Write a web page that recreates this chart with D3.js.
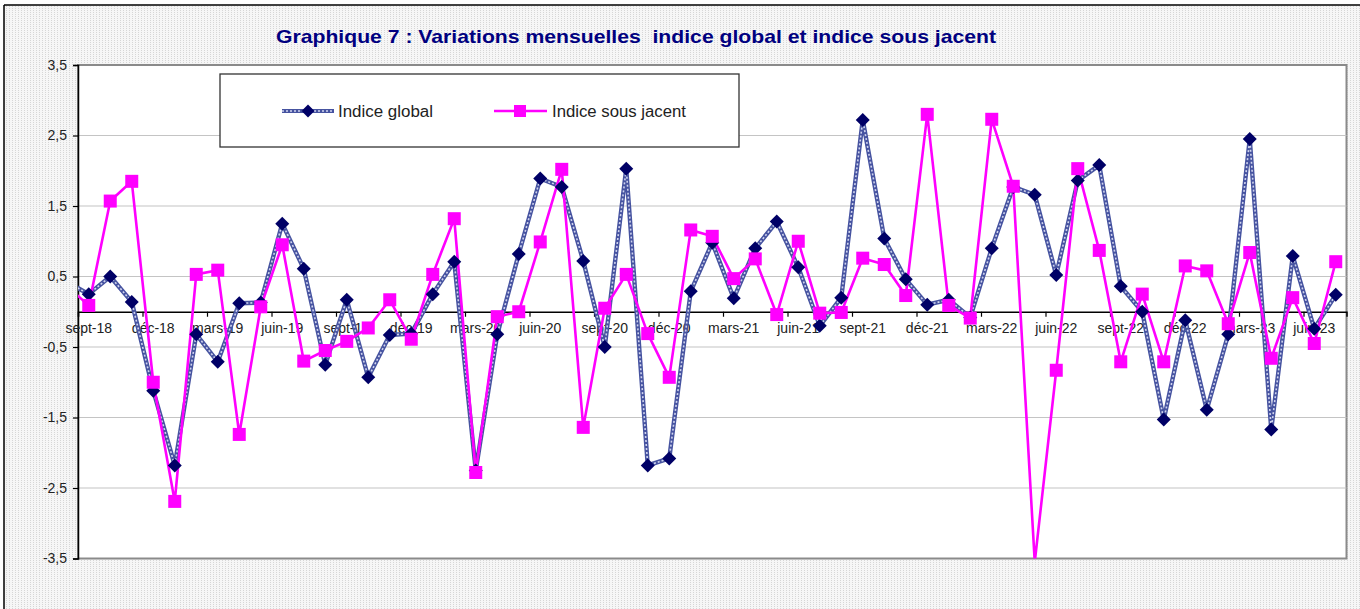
<!DOCTYPE html>
<html><head><meta charset="utf-8">
<script src="https://cdn.jsdelivr.net/npm/d3@7"></script>
<style>
html,body{margin:0;padding:0;background:#fff;}
svg{display:block;font-family:"Liberation Sans",Arial,sans-serif;}
</style></head>
<body><svg id="chart" width="1360" height="609"></svg>
<script>
const title = "Graphique 7 : Variations mensuelles  indice global et indice sous jacent";
const months = ["août-18","sept-18","oct-18","nov-18","déc-18","janv-19","févr-19","mars-19","avr-19","mai-19","juin-19","juil-19","août-19","sept-19","oct-19","nov-19","déc-19","janv-20","févr-20","mars-20","avr-20","mai-20","juin-20","juil-20","août-20","sept-20","oct-20","nov-20","déc-20","janv-21","févr-21","mars-21","avr-21","mai-21","juin-21","juil-21","août-21","sept-21","oct-21","nov-21","déc-21","janv-22","févr-22","mars-22","avr-22","mai-22","juin-22","juil-22","août-22","sept-22","oct-22","nov-22","déc-22","janv-23","févr-23","mars-23","avr-23","mai-23","juin-23","juil-23"];
const indiceGlobal = [0.42,0.25,0.50,0.14,-1.12,-2.18,-0.32,-0.71,0.12,0.13,1.25,0.61,-0.75,0.17,-0.93,-0.33,-0.31,0.25,0.71,-2.25,-0.32,0.82,1.89,1.77,0.72,-0.50,2.03,-2.18,-2.08,0.29,0.98,0.19,0.90,1.28,0.63,-0.20,0.20,2.72,1.04,0.46,0.10,0.17,-0.08,0.90,1.77,1.66,0.52,1.86,2.08,0.36,0.00,-1.53,-0.12,-1.39,-0.32,2.45,-1.67,0.79,-0.24,0.24];
const indiceSousJacent = [0.36,0.09,1.57,1.85,-1.00,-2.69,0.53,0.59,-1.74,0.07,0.95,-0.70,-0.55,-0.42,-0.23,0.17,-0.39,0.53,1.32,-2.28,-0.07,0.00,0.99,2.02,-1.64,0.05,0.53,-0.31,-0.93,1.16,1.07,0.47,0.75,-0.04,1.00,-0.02,-0.01,0.76,0.67,0.23,2.80,0.09,-0.09,2.73,1.78,-3.55,-0.83,2.03,0.87,-0.71,0.25,-0.71,0.65,0.58,-0.17,0.84,-0.66,0.20,-0.45,0.71];
const yTicks = [3.5,2.5,1.5,0.5,-0.5,-1.5,-2.5,-3.5];
const yTickLabels = ["3,5","2,5","1,5","0,5","-0,5","-1,5","-2,5","-3,5"];
const seriesNames = ["Indice global","Indice sous jacent"];

const svg = d3.select("#chart");
const W = 1360, H = 609;
const plot = {left:78, right:1346.5, top:65, bottom:558.5};

const defs = svg.append("defs");
const pat = defs.append("pattern").attr("id","dots").attr("width",3).attr("height",2).attr("patternUnits","userSpaceOnUse");
pat.append("rect").attr("width",3).attr("height",2).attr("fill","#f6f6f6");
pat.append("rect").attr("width",1).attr("height",1).attr("fill","#d6d6d6");
defs.append("clipPath").attr("id","plotclip").append("rect")
  .attr("x",plot.left).attr("y",plot.top).attr("width",plot.right-plot.left).attr("height",plot.bottom-plot.top);

// chart area
svg.append("rect").attr("x",4).attr("y",5).attr("width",W-4).attr("height",H-5).attr("fill","url(#dots)");
svg.append("line").attr("x1",4).attr("x2",W).attr("y1",5).attr("y2",5).attr("stroke","#000").attr("stroke-width",1.5);
svg.append("line").attr("x1",4).attr("x2",4).attr("y1",5).attr("y2",H).attr("stroke","#000").attr("stroke-width",1.5);

// plot area
svg.append("rect").attr("x",plot.left).attr("y",plot.top).attr("width",plot.right-plot.left).attr("height",plot.bottom-plot.top)
  .attr("fill","#fff").attr("stroke","#8a8a8a").attr("stroke-width",2);

const x = d3.scaleLinear().domain([0.5, months.length-0.5]).range([plot.left, plot.right]);
const y = d3.scaleLinear().domain([-3.5, 3.5]).range([plot.bottom, plot.top]);

// gridlines
svg.append("g").selectAll("line").data(yTicks.slice(1,-1)).join("line")
  .attr("x1",plot.left).attr("x2",plot.right).attr("y1",d=>y(d)).attr("y2",d=>y(d))
  .attr("stroke","#c4c4c4").attr("stroke-width",1.2);

// title
svg.append("text").attr("x",276).attr("y",43).attr("textLength",720).attr("lengthAdjust","spacingAndGlyphs")
  .attr("font-size",19).attr("font-weight","bold").attr("fill","#000080").style("white-space","pre").text(title);

// y axis
const yAxis = d3.axisLeft(y).tickValues(yTicks).tickFormat((d,i)=>yTickLabels[i]).tickSize(5).tickPadding(6);
const gy = svg.append("g").attr("transform",`translate(${plot.left},0)`).call(yAxis);
gy.select(".domain").attr("stroke","#000").attr("stroke-width",1.5);
gy.selectAll(".tick line").attr("stroke","#000").attr("stroke-width",1.2);
gy.selectAll(".tick text").attr("font-size",14).attr("fill","#222").attr("font-family","Liberation Sans, Arial, sans-serif");

// x axis at zero
const tickIdx = d3.range(0.5, months.length, 3);
const xAxisTicks = d3.axisBottom(x).tickValues(tickIdx).tickFormat("").tickSizeOuter(0).tickSize(5);
const gx = svg.append("g").attr("transform",`translate(0,${y(0)})`).call(xAxisTicks);
gx.select(".domain").attr("stroke","#000").attr("stroke-width",1.5);
gx.selectAll(".tick line").attr("stroke","#000").attr("stroke-width",1.2);
const labelIdx = d3.range(1, months.length, 3);
svg.append("g").selectAll("text").data(labelIdx).join("text")
  .attr("x",d=>x(d)).attr("y",y(0)+21).attr("text-anchor","middle")
  .attr("font-size",14).attr("fill","#222").text(d=>months[d]);

// series
const lineGen = vals => d3.line().x((d,i)=>x(i)).y(d=>y(d))(vals);
const gSeries = svg.append("g").attr("clip-path","url(#plotclip)");
// global: textured navy line
gSeries.append("path").attr("d",lineGen(indiceGlobal)).attr("fill","none").attr("stroke","#4653a0").attr("stroke-width",4.4).attr("stroke-linejoin","round");
gSeries.append("path").attr("d",lineGen(indiceGlobal)).attr("fill","none").attr("stroke","#cfd3ee").attr("stroke-width",1.6).attr("stroke-dasharray","2,2");
const inRange = (v,i) => i>0 && v>=-3.5 && v<=3.5;
const gPts = indiceGlobal.map((v,i)=>({v,i})).filter(d=>inRange(d.v,d.i));
svg.append("g").selectAll("path").data(gPts).join("path")
  .attr("d","M0,-7L7,0L0,7L-7,0Z").attr("transform",d=>`translate(${x(d.i)},${y(d.v)})`).attr("fill","#000066");

// sous jacent
gSeries.append("path").attr("d",lineGen(indiceSousJacent)).attr("fill","none").attr("stroke","#ff00ff").attr("stroke-width",2.6).attr("stroke-linejoin","round");
const sPts = indiceSousJacent.map((v,i)=>({v,i})).filter(d=>inRange(d.v,d.i));
svg.append("g").selectAll("rect").data(sPts).join("rect")
  .attr("x",d=>x(d.i)-6.5).attr("y",d=>y(d.v)-6.5).attr("width",13).attr("height",13).attr("fill","#ff00ff");

// legend
const lg = svg.append("g");
lg.append("rect").attr("x",220).attr("y",74).attr("width",519).attr("height",73).attr("fill","#fff").attr("stroke","#333").attr("stroke-width",1.3);
lg.append("line").attr("x1",282).attr("x2",334).attr("y1",111).attr("y2",111).attr("stroke","#4653a0").attr("stroke-width",4);
lg.append("line").attr("x1",282).attr("x2",334).attr("y1",111).attr("y2",111).attr("stroke","#cfd3ee").attr("stroke-width",1.4).attr("stroke-dasharray","2,2");
lg.append("path").attr("d","M0,-6.5L6.5,0L0,6.5L-6.5,0Z").attr("transform","translate(308,111)").attr("fill","#000066");
lg.append("text").attr("x",338).attr("y",117).attr("font-size",16).attr("textLength",95).attr("lengthAdjust","spacingAndGlyphs").attr("fill","#222").text(seriesNames[0]);
lg.append("line").attr("x1",494).attr("x2",547).attr("y1",111).attr("y2",111).attr("stroke","#ff00ff").attr("stroke-width",2.6);
lg.append("rect").attr("x",514).attr("y",105).attr("width",12).attr("height",12).attr("fill","#ff00ff");
lg.append("text").attr("x",552).attr("y",117).attr("font-size",16).attr("textLength",134).attr("lengthAdjust","spacingAndGlyphs").attr("fill","#222").text(seriesNames[1]);
</script>
</body></html>
